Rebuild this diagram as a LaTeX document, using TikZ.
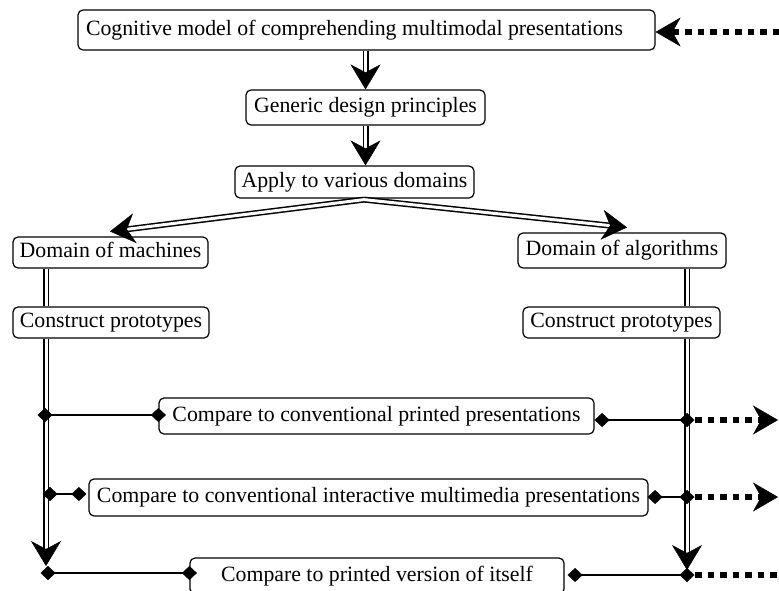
\documentclass[tikz,border=0pt]{standalone}
\usepackage{fontspec}
\setmainfont{Liberation Serif}
\usetikzlibrary{arrows.meta,calc}
\begin{document}
\begin{tikzpicture}[x=1pt,y=-1pt,
  box/.style={draw, line width=1.2pt, rounded corners=5pt, inner sep=0pt,
    font=\fontsize{21.8}{24}\selectfont, text height=15.5pt, text depth=5pt},
  dbl/.style={draw, line width=1.5pt, double, double distance=3pt},
  tipseg/.style={draw, line width=1pt, -{Stealth[length=25pt,width=30pt,inset=8pt,line width=0.4pt]}},
  dia/.style={draw, line width=1.3pt, {Diamond[length=15pt,width=14pt,line width=0.4pt]}-{Diamond[length=15pt,width=14pt,line width=0.4pt]}},
  dots/.style={draw, line width=6.5pt, dash pattern=on 6.5pt off 6pt},
  dothead/.style={-{Stealth[length=25pt,width=29pt,inset=8pt,line width=0.4pt]}}
]
\clip (0,0) rectangle (779,590);

% nodes
\node[box, minimum width=577pt, minimum height=40pt] (n1) at (366.5,30)
  {\makebox[561pt][l]{Cognitive model of comprehending multimodal presentations}};
\node[box, minimum width=239pt, minimum height=35pt] (n2) at (365.5,107.5) {Generic design principles};
\node[box, minimum width=239pt, minimum height=32pt] (n3) at (354.5,182) {Apply to various domains};
\node[box, minimum width=195pt, minimum height=31pt] (n4) at (110.5,252.5) {Domain of machines};
\node[box, minimum width=208pt, minimum height=35pt] (n5) at (622,250.5) {Domain of algorithms};
\node[box, minimum width=196pt, minimum height=31pt] (n6) at (111,322.5) {Construct prototypes};
\node[box, minimum width=197pt, minimum height=31pt] (n7) at (621.5,322.5) {Construct prototypes};
\node[box, minimum width=435pt, minimum height=36pt] (n8) at (376.5,416) {Compare to conventional printed presentations};
\node[box, minimum width=559pt, minimum height=37pt] (n9) at (368.5,497.5) {Compare to conventional interactive multimedia presentations};
\node[box, minimum width=374pt, minimum height=36pt] (n10) at (377,576) {Compare to printed version of itself};

% coordinates
\coordinate (AP) at ($(n3.south)+(9.5,1)$);
\coordinate (TL) at ($(n4.north)+(-0.5,-5)$);
\coordinate (TR) at ($(n5.north)+(5,-5)$);
\coordinate (LA) at (46,566);
\coordinate (RA) at (687,570);
\coordinate (L1) at (45,415);
\coordinate (L2) at (50,494);
\coordinate (L3) at (48,573);
\coordinate (R1) at (687,420);
\coordinate (R2) at (687,497);
\coordinate (R3) at (687,575);
\coordinate (E1) at (778,420);
\coordinate (E2) at (778,497);
\coordinate (E3) at (779,575);
\coordinate (T) at (779,32);

% top chain
\draw[dbl, shorten >=15pt] (n2.north |- n1.south) -- (n2.north);
\draw[tipseg] ($(n2.north)+(0,-2)$) -- (n2.north);
\draw[dbl, shorten >=15pt] (n2.south) -- (n2.south |- n3.north);
\draw[tipseg] ($(n2.south |- n3.north)+(0,-2)$) -- (n2.south |- n3.north);

% branches
\draw[dbl, shorten >=15pt] (AP) -- (TL);
\draw[tipseg] ($(TL)!2pt!(AP)$) -- (TL);
\draw[dbl, shorten >=15pt] (AP) -- (TR);
\draw[tipseg] ($(TR)!2pt!(AP)$) -- (TR);

% left column
\draw[dbl] (n4.south -| LA) -- (n6.north -| LA);
\draw[dbl, shorten >=15pt] (n6.south -| LA) -- (LA);
\draw[tipseg] ($(LA)+(0,-2)$) -- (LA);

% right column
\draw[dbl] (n5.south -| RA) -- (n7.north -| RA);
\draw[dbl, shorten >=15pt] (n7.south -| RA) -- (RA);
\draw[tipseg] ($(RA)+(0,-2)$) -- (RA);

% diamond links
\draw[dia, shorten <=-7.5pt, shorten >=-7.5pt] (L1) -- (n8.west |- L1);
\draw[dia, shorten <=-7.5pt, shorten >=2pt] (L2) -- (n9.west |- L2);
\draw[dia, shorten <=-7.5pt, shorten >=-7.5pt] (L3) -- (n10.west |- L3);
\draw[dia, shorten <=-7.5pt] (R1) -- (n8.east |- R1);
\draw[dia, shorten <=-7.5pt, shorten >=-1pt] (R2) -- (n9.east |- R2);
\draw[dia, shorten <=-7.5pt, shorten >=3pt] (R3) -- (n10.east |- R3);

% dotted arrows
\draw[dots, dothead, shorten <=8pt] (R1) -- (E1);
\draw[dots, dothead, shorten <=8pt] (R2) -- (E2);
\draw[dots, shorten <=8pt] (R3) -- (E3);
\draw[dots, dothead] (T) -- (n1.east |- T);
\end{tikzpicture}
\end{document}
